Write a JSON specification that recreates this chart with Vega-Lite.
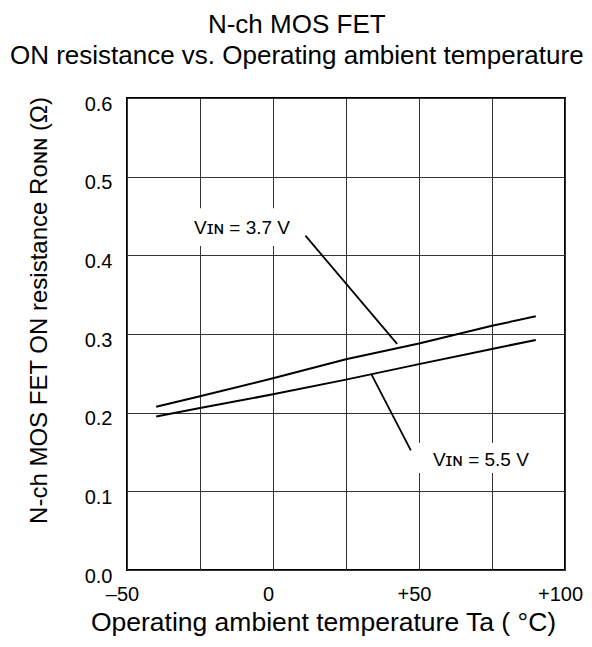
{
  "$schema": "https://vega.github.io/schema/vega-lite/v6.json",
  "width": 438,
  "height": 472,
  "autosize": {"type": "none"},
  "padding": {"left": 127, "top": 98, "right": 27, "bottom": 77},
  "background": "white",
  "title": {
    "text": ["N-ch MOS FET", "ON resistance vs. Operating ambient temperature"],
    "font": "Liberation Sans",
    "fontSize": 26,
    "fontWeight": "normal",
    "lineHeight": 31,
    "color": "black",
    "anchor": "middle",
    "frame": "bounds",
    "offset": 25,
    "dx": -8
  },
  "config": {
    "view": {"stroke": "black", "strokeWidth": 2},
    "axis": {
      "domain": false,
      "ticks": false,
      "grid": true,
      "gridColor": "#333333",
      "gridWidth": 1,
      "gridOpacity": 1,
      "labelFont": "Liberation Sans",
      "labelFontSize": 20,
      "labelColor": "black",
      "titleFont": "Liberation Sans, Noto Sans",
      "titleFontWeight": "normal",
      "titleColor": "black",
      "labelFlush": false,
      "labelOverlap": false
    }
  },
  "datasets": {
    "curves": [
      {"t": -40, "r": 0.2075, "vin": "3.7 V"},
      {"t": -25, "r": 0.2208, "vin": "3.7 V"},
      {"t": 0, "r": 0.2438, "vin": "3.7 V"},
      {"t": 25, "r": 0.268, "vin": "3.7 V"},
      {"t": 50, "r": 0.288, "vin": "3.7 V"},
      {"t": 75, "r": 0.3104, "vin": "3.7 V"},
      {"t": 90, "r": 0.3225, "vin": "3.7 V"},
      {"t": -40, "r": 0.195, "vin": "5.5 V"},
      {"t": -25, "r": 0.206, "vin": "5.5 V"},
      {"t": 0, "r": 0.2233, "vin": "5.5 V"},
      {"t": 25, "r": 0.242, "vin": "5.5 V"},
      {"t": 50, "r": 0.2617, "vin": "5.5 V"},
      {"t": 75, "r": 0.281, "vin": "5.5 V"},
      {"t": 90, "r": 0.2925, "vin": "5.5 V"}
    ],
    "leaders": [
      {"x": 11.1, "y": 0.425, "x2": 42.5, "y2": 0.2875},
      {"x": 33.8, "y": 0.248, "x2": 47.2, "y2": 0.152}
    ],
    "boxes": [
      {"x": -30, "x2": 9, "y": 0.412, "y2": 0.46},
      {"x": 47.8, "x2": 91.4, "y": 0.1233, "y2": 0.1614}
    ],
    "labels": [
      {"x": -10.6, "y": 0.4347, "text": "Vɪɴ = 3.7 V"},
      {"x": 71.2, "y": 0.1398, "text": "Vɪɴ = 5.5 V"}
    ]
  },
  "layer": [
    {
      "data": {"name": "boxes"},
      "mark": {"type": "rect", "fill": "white", "stroke": null},
      "encoding": {
        "x": {
          "field": "x", "type": "quantitative",
          "scale": {"domain": [-50, 100], "nice": false, "zero": false},
          "axis": {
            "values": [-50, -25, 0, 25, 50, 75, 100],
            "labelExpr": "datum.value == 0 ? '0' : (datum.value % 50 != 0 ? '' : (datum.value > 0 ? '+' + datum.value : '–' + abs(datum.value)))",
            "labelPadding": 14,
            "labelOffset": -5,
            "title": "Operating ambient temperature Ta ( °C)",
            "titleFontSize": 26.5,
            "titlePadding": 5,
            "titleX": 196,
            "titleAlign": "center"
          }
        },
        "x2": {"field": "x2"},
        "y": {
          "field": "y", "type": "quantitative",
          "scale": {"domain": [0, 0.6], "nice": false, "zero": false},
          "axis": {
            "values": [0, 0.1, 0.2, 0.3, 0.4, 0.5, 0.6],
            "format": ".1f",
            "labelPadding": 15,
            "labelOffset": 6,
            "title": "N-ch MOS FET ON resistance Rᴏɴɴ (Ω)",
            "titleFontSize": 24,
            "titleAngle": -90,
            "titleX": -88,
            "titleY": 212,
            "titleAlign": "center",
            "titleBaseline": "middle"
          }
        },
        "y2": {"field": "y2"}
      }
    },
    {
      "data": {"name": "curves"},
      "mark": {"type": "line", "color": "black", "strokeWidth": 2},
      "encoding": {
        "x": {"field": "t", "type": "quantitative"},
        "y": {"field": "r", "type": "quantitative"},
        "detail": {"field": "vin"}
      }
    },
    {
      "data": {"name": "leaders"},
      "mark": {"type": "rule", "color": "black", "strokeWidth": 1.8},
      "encoding": {
        "x": {"field": "x", "type": "quantitative"},
        "y": {"field": "y", "type": "quantitative"},
        "x2": {"field": "x2"},
        "y2": {"field": "y2"}
      }
    },
    {
      "data": {"name": "labels"},
      "mark": {"type": "text", "font": "Liberation Sans, Noto Sans", "fontSize": 19, "color": "black", "align": "center", "baseline": "middle"},
      "encoding": {
        "x": {"field": "x", "type": "quantitative"},
        "y": {"field": "y", "type": "quantitative"},
        "text": {"field": "text"}
      }
    }
  ]
}
